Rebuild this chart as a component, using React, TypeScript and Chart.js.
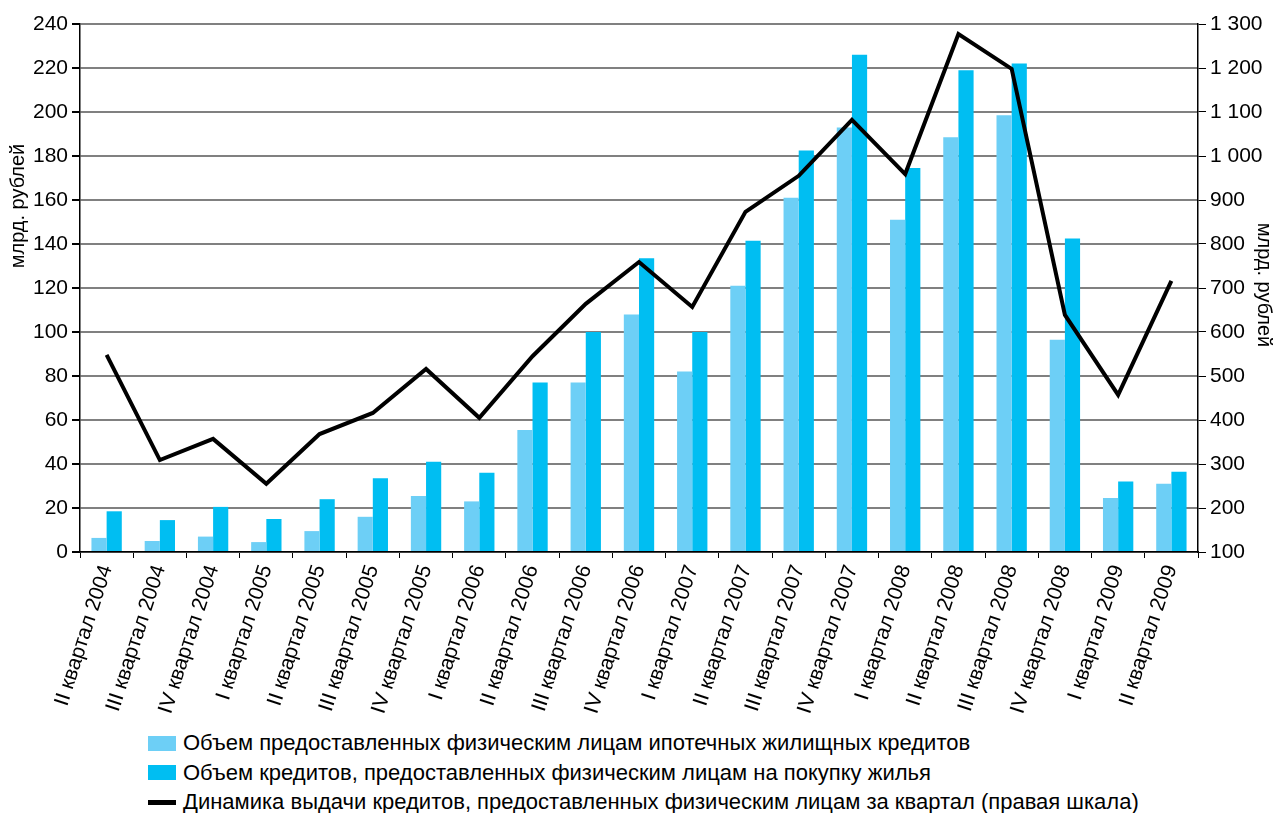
import React, { useEffect, useRef } from "react";
import { Chart, registerables } from "chart.js";

Chart.register(...registerables);

const categories = [
  "II квартал 2004", "III квартал 2004", "IV квартал 2004",
  "I квартал 2005", "II квартал 2005", "III квартал 2005", "IV квартал 2005",
  "I квартал 2006", "II квартал 2006", "III квартал 2006", "IV квартал 2006",
  "I квартал 2007", "II квартал 2007", "III квартал 2007", "IV квартал 2007",
  "I квартал 2008", "II квартал 2008", "III квартал 2008", "IV квартал 2008",
  "I квартал 2009", "II квартал 2009",
];

const mortgageVolume = [6.4, 5, 7, 4.5, 9.5, 16, 25.5, 23, 55.5, 77, 108, 82, 121, 161, 193, 151, 188.5, 198.5, 96.5, 24.5, 31];
const housingVolume = [18.5, 14.5, 20.5, 15, 24, 33.5, 41, 36, 77, 100, 133.5, 100, 141.5, 182.5, 226, 174.5, 219, 222, 142.5, 32, 36.5];
const quarterlyIssuance = [548, 309, 357, 255, 368, 416, 516, 405, 545, 664, 759, 657, 873, 955, 1082, 959, 1277, 1198, 639, 457, 716];

const seriesNames = [
  "Объем предоставленных физическим лицам ипотечных жилищных кредитов",
  "Объем кредитов, предоставленных физическим лицам на покупку жилья",
  "Динамика выдачи кредитов, предоставленных физическим лицам за квартал (правая шкала)",
];
const axisTitle = "млрд. рублей";

const LIGHT = "#6DCFF6";
const DARK = "#00BEF2";
const FONT = "'Liberation Sans', Arial, sans-serif";

const titlesPlugin = {
  id: "axisTitles",
  afterDraw(chart: any) {
    const ctx = chart.ctx;
    ctx.save();
    ctx.fillStyle = "#000";
    ctx.font = `20px ${FONT}`;
    ctx.textAlign = "center";
    ctx.textBaseline = "middle";
    ctx.translate(18, 206);
    ctx.rotate(-Math.PI / 2);
    ctx.fillText(axisTitle, 0, 0);
    ctx.restore();
    ctx.save();
    ctx.fillStyle = "#000";
    ctx.font = `20px ${FONT}`;
    ctx.textAlign = "center";
    ctx.textBaseline = "middle";
    ctx.translate(1264, 285);
    ctx.rotate(Math.PI / 2);
    ctx.fillText(axisTitle, 0, 0);
    ctx.restore();
  },
};

export default function App() {
  const ref = useRef<HTMLCanvasElement | null>(null);

  useEffect(() => {
    document.body.style.margin = "0";
    const canvas = ref.current!;
    const chart = new Chart(canvas, {
      type: "bar",
      data: {
        labels: categories,
        datasets: [
          {
            type: "line",
            label: seriesNames[2],
            data: quarterlyIssuance,
            yAxisID: "y1",
            borderColor: "#000",
            backgroundColor: "#000",
            borderWidth: 4,
            pointRadius: 0,
            tension: 0,
            order: 0,
          } as any,
          {
            label: seriesNames[0],
            data: mortgageVolume,
            backgroundColor: LIGHT,
            yAxisID: "y",
            barPercentage: 1,
            categoryPercentage: 0.57,
            order: 1,
          },
          {
            label: seriesNames[1],
            data: housingVolume,
            backgroundColor: DARK,
            yAxisID: "y",
            barPercentage: 1,
            categoryPercentage: 0.57,
            order: 1,
          },
        ],
      },
      options: {
        animation: false,
        responsive: false,
        maintainAspectRatio: false,
        layout: { padding: { top: 24, left: 0, right: 0, bottom: 0 } },
        plugins: {
          legend: { display: false },
          tooltip: { enabled: false },
        },
        scales: {
          x: {
            grid: { display: true, drawOnChartArea: false, tickLength: 6, tickColor: "#000", offset: true },
            border: { color: "#000", width: 1.5 },
            ticks: {
              color: "#000",
              font: { family: FONT, size: 21 },
              minRotation: 72,
              maxRotation: 72,
              autoSkip: false,
              padding: 4,
            },
            afterFit(scale: any) {
              scale.height = 178;
            },
          },
          y: {
            position: "left",
            min: 0,
            max: 240,
            ticks: { stepSize: 20, color: "#000", font: { family: FONT, size: 21 }, padding: 4 },
            grid: { color: "#808080", lineWidth: 2, tickLength: 8, tickColor: "#000", drawTicks: true },
            border: { color: "#000", width: 1.5 },
            afterFit(scale: any) {
              scale.width = 80;
            },
          },
          y1: {
            position: "right",
            min: 100,
            max: 1300,
            ticks: {
              stepSize: 100,
              color: "#000",
              font: { family: FONT, size: 21 },
              padding: 4,
              callback: (v: any) => {
                const n = Number(v);
                return n >= 1000 ? `${Math.floor(n / 1000)} ${String(n % 1000).padStart(3, "0")}` : String(n);
              },
            },
            grid: { drawOnChartArea: false, tickLength: 8, tickColor: "#000" },
            border: { color: "#000", width: 1.5 },
            afterFit(scale: any) {
              scale.width = 75;
            },
          },
        },
      },
      plugins: [titlesPlugin],
    });
    return () => chart.destroy();
  }, []);

  const legendItem = (i: number, color: string, isLine: boolean) => (
    <div
      key={i}
      style={{
        position: "absolute",
        left: 148,
        top: 732 + i * 29.5,
        height: 22,
        display: "flex",
        alignItems: "center",
        fontFamily: FONT,
        fontSize: 22,
        color: "#000",
        whiteSpace: "nowrap",
      }}
    >
      <span
        style={{
          display: "inline-block",
          width: 28,
          height: isLine ? 5 : 15,
          background: color,
          marginRight: 7,
        }}
      />
      <span>{seriesNames[i]}</span>
    </div>
  );

  return (
    <div style={{ position: "relative", width: 1273, height: 813, background: "#fff" }}>
      <canvas ref={ref} width={1273} height={730} style={{ display: "block" }} />
      {legendItem(0, LIGHT, false)}
      {legendItem(1, DARK, false)}
      {legendItem(2, "#000", true)}
    </div>
  );
}
